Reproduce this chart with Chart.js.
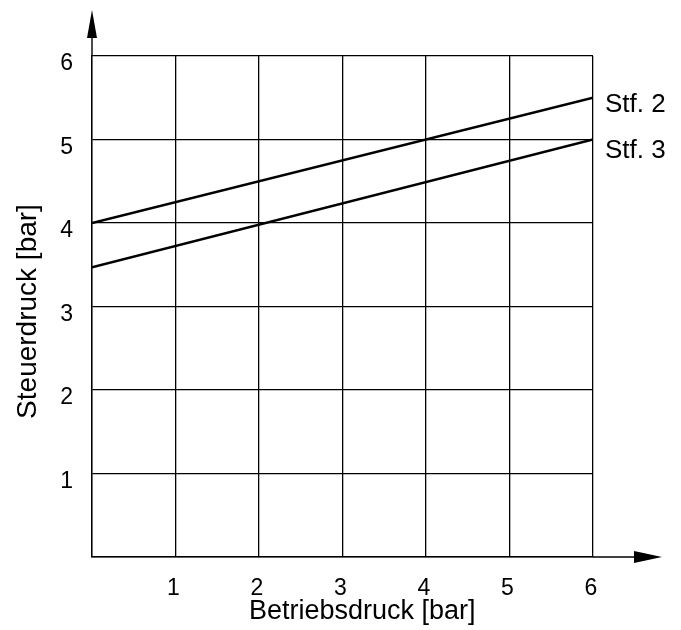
<!DOCTYPE html>
<html>
<head>
<meta charset="utf-8">
<script src="https://cdn.jsdelivr.net/npm/chart.js@4"></script>
<style>
  html, body { margin: 0; padding: 0; background: #fff; }
  #wrap { width: 681px; height: 630px; }
</style>
</head>
<body>
<div id="wrap"><canvas id="myChart" width="681" height="630"></canvas></div>
<script>
// Daten
var xWerte = [0, 6];
var stf2 = [4.0, 5.5];
var stf3 = [3.47, 5.0];
var serienNamen = ["Stf. 2", "Stf. 3"];
var tickWerte = [0, 1, 2, 3, 4, 5, 6];
var xTitel = "Betriebsdruck [bar]";
var yTitel = "Steuerdruck [bar]";

var schrift = "'Liberation Sans', Arial, Helvetica, sans-serif";

function punkte(ys) {
  var p = [];
  for (var i = 0; i < xWerte.length; i++) {
    p.push({x: xWerte[i], y: ys[i]});
  }
  return p;
}

// Pfeile an den Achsen, Achsentitel + Beschriftung am Linienende
var pfeilPlugin = {
  id: 'pfeile',
  afterDraw: function(chart) {
    var ctx = chart.ctx;
    var a = chart.chartArea;
    ctx.save();
    ctx.strokeStyle = '#000';
    ctx.fillStyle = '#000';
    ctx.lineWidth = 1.4;
    // y-Achse nach oben verlaengern
    ctx.beginPath();
    ctx.moveTo(a.left, a.top);
    ctx.lineTo(a.left, 36);
    ctx.stroke();
    ctx.beginPath();
    ctx.moveTo(a.left, 10);
    ctx.lineTo(a.left - 5, 38);
    ctx.lineTo(a.left + 5, 38);
    ctx.closePath();
    ctx.fill();
    // x-Achse nach rechts verlaengern
    ctx.beginPath();
    ctx.moveTo(a.right, a.bottom);
    ctx.lineTo(636, a.bottom);
    ctx.stroke();
    ctx.beginPath();
    ctx.moveTo(662, a.bottom);
    ctx.lineTo(634, a.bottom - 6);
    ctx.lineTo(634, a.bottom + 6);
    ctx.closePath();
    ctx.fill();
    // Serienbeschriftung
    ctx.font = '26px ' + schrift;
    ctx.textBaseline = 'alphabetic';
    ctx.textAlign = 'left';
    var versatz = [14, 18];
    chart.data.datasets.forEach(function(ds, i) {
      var letzter = ds.data[ds.data.length - 1];
      var px = chart.scales.x.getPixelForValue(letzter.x);
      var py = chart.scales.y.getPixelForValue(letzter.y);
      ctx.fillText(ds.label, px + 12, py + versatz[i]);
    });
    // x-Achsentitel
    ctx.font = '27px ' + schrift;
    ctx.fillText(xTitel, 249, 619);
    // y-Achsentitel
    ctx.font = '28px ' + schrift;
    ctx.textAlign = 'center';
    ctx.textBaseline = 'middle';
    ctx.translate(28, (a.top + a.bottom) / 2 + 5);
    ctx.rotate(-Math.PI / 2);
    ctx.fillText(yTitel, 0, 0);
    ctx.restore();
  }
};

var ctx = document.getElementById('myChart').getContext('2d');
var myChart = new Chart(ctx, {
  type: 'line',
  data: {
    datasets: [
      { label: serienNamen[0], data: punkte(stf2), borderColor: '#000', borderWidth: 2.6,
        pointRadius: 0, fill: false, tension: 0 },
      { label: serienNamen[1], data: punkte(stf3), borderColor: '#000', borderWidth: 2.6,
        pointRadius: 0, fill: false, tension: 0 }
    ]
  },
  options: {
    responsive: false,
    animation: false,
    events: [],
    layout: { padding: { left: 0, right: 88, top: 56, bottom: 0 } },
    plugins: {
      legend: { display: false },
      tooltip: { enabled: false }
    },
    scales: {
      x: {
        type: 'linear',
        min: 0, max: 6,
        afterBuildTicks: function(s) { s.ticks = tickWerte.map(function(v) { return {value: v}; }); },
        afterFit: function(s) { s.height = 630 - 557; },
        grid: { color: '#000', lineWidth: 1.3, drawTicks: false },
        border: { color: '#000', width: 1.4 },
        ticks: {
          color: '#000', padding: 18, maxRotation: 0, labelOffset: -2,
          font: { family: schrift, size: 23 },
          callback: function(v) { return v === 0 ? '' : String(v); }
        },
        title: { display: false }
      },
      y: {
        type: 'linear',
        min: 0, max: 6,
        afterBuildTicks: function(s) { s.ticks = tickWerte.map(function(v) { return {value: v}; }); },
        afterFit: function(s) { s.width = 92; },
        grid: { color: '#000', lineWidth: 1.3, drawTicks: false },
        border: { color: '#000', width: 1.4 },
        ticks: {
          color: '#000', padding: 19, labelOffset: 8,
          font: { family: schrift, size: 23 },
          callback: function(v) { return v === 0 ? '' : String(v); }
        },
        title: { display: false }
      }
    }
  },
  plugins: [pfeilPlugin]
});
</script>
</body>
</html>
